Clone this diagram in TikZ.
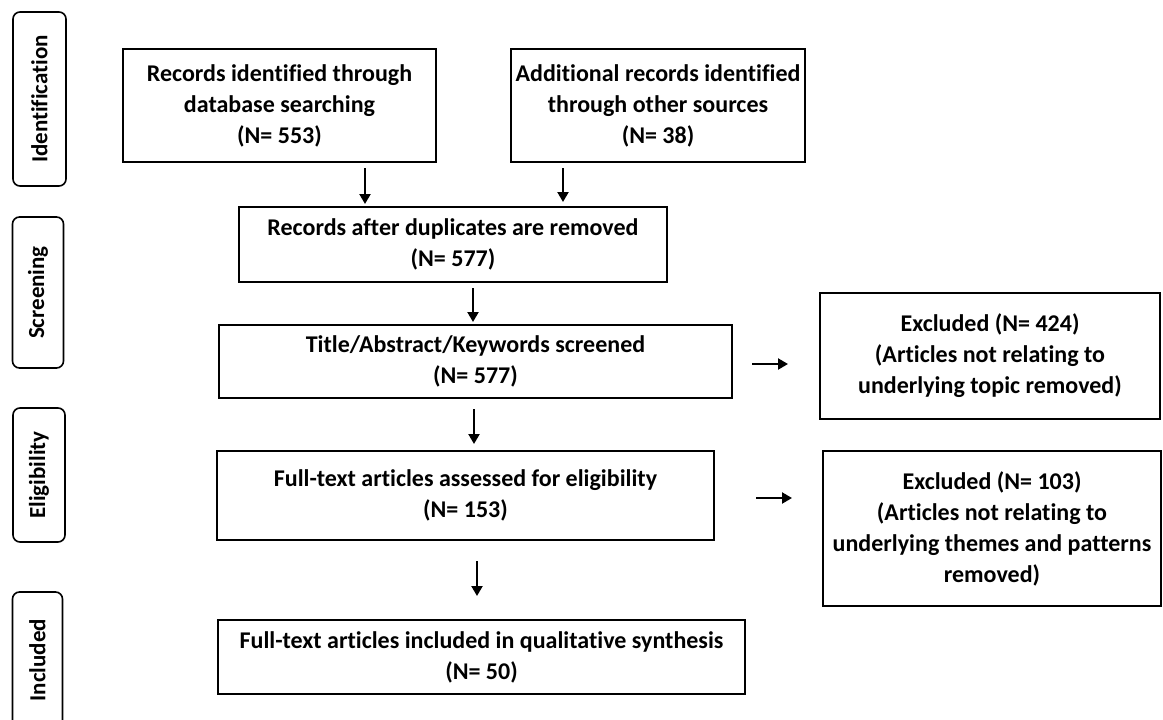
\documentclass[tikz,border=0pt]{standalone}
\usepackage{fontspec}
\setmainfont{Carlito}[Ligatures=NoCommon]
\usetikzlibrary{arrows.meta}
\begin{document}
\begin{tikzpicture}[x=1pt,y=-1pt,
  box/.style={draw, line width=2pt, align=center, inner sep=0pt,
    font=\fontsize{24}{31}\selectfont\bfseries},
  phase/.style={draw, line width=1.6pt, rounded corners=7pt, inner sep=0pt,
    rotate=90, font=\fontsize{23}{26}\selectfont\bfseries},
  arr/.style={line width=2.2pt, -{Triangle[width=11pt,length=10pt]}},
]
\useasboundingbox (0,0) rectangle (1163,720);

% phase labels down the left side
\node[phase, minimum width=174pt, minimum height=53pt] (pid) at (39.5,99) {Identification};
\node[phase, minimum width=151pt, minimum height=51pt] (psc) at (38,292.5) {Screening};
\node[phase, minimum width=134pt, minimum height=52pt] (pel) at (39,475) {Eligibility};
\node[phase, minimum width=136pt, minimum height=50pt] (pin) at (37.5,660) {Included};

% flow boxes
\node[box, minimum width=313pt, minimum height=113pt] (b1) at (279.5,105.5)
  {Records identified through\\database searching\\(N= 553)};
\node[box, minimum width=294pt, minimum height=113pt] (b2) at (658,105.5)
  {Additional records identified\\through other sources\\(N= 38)};
\node[box, minimum width=428pt, minimum height=75pt] (b3) at (453,244.5)
  {Records after duplicates are removed\\(N= 577)};
\node[box, minimum width=513pt, minimum height=73pt] (b4) at (475.5,361.5)
  {Title/Abstract/Keywords screened\\(N= 577)};
\node[box, minimum width=497pt, minimum height=89pt] (b5) at (465.5,495.5)
  {Full-text articles assessed for eligibility\\(N= 153)};
\node[box, minimum width=527pt, minimum height=74pt] (b6) at (481.5,657)
  {Full-text articles included in qualitative synthesis\\(N= 50)};
\node[box, minimum width=340pt, minimum height=126pt] (x1) at (990,356)
  {Excluded (N= 424)\\(Articles not relating to\\underlying topic removed)};
\node[box, minimum width=338pt, minimum height=155pt] (x2) at (992,528.5)
  {Excluded (N= 103)\\(Articles not relating to\\underlying themes and patterns\\removed)};

% arrow anchor points
\coordinate (a1) at ([xshift=85.5pt]b1.south);
\coordinate (a2) at ([xshift=-95pt]b2.south);
\coordinate (a3) at ([xshift=20pt]b3.south);
\coordinate (a4) at ([xshift=-1.5pt]b4.south);
\coordinate (a5) at ([xshift=11.5pt]b5.south);
\coordinate (r1) at ([yshift=-2.5pt]b4.east);
\coordinate (r2) at ([yshift=-2.5pt]b5.east);

% connectors
\draw[arr, shorten <=5pt, shorten >=2pt] (a1) -- (a1 |- b3.north);
\draw[arr, shorten <=5pt, shorten >=4pt] (a2) -- (a2 |- b3.north);
\draw[arr, shorten <=5pt, shorten >=2pt] (a3) -- (a3 |- b4.north);
\draw[arr, shorten <=10pt, shorten >=6pt] (a4) -- (a4 |- b5.north);
\draw[arr, shorten <=20pt, shorten >=23pt] (a5) -- (a5 |- b6.north);
\draw[arr, shorten <=19pt, shorten >=31pt] (r1) -- (r1 -| x1.west);
\draw[arr, shorten <=41pt, shorten >=30pt] (r2) -- (r2 -| x2.west);
\end{tikzpicture}
\end{document}
